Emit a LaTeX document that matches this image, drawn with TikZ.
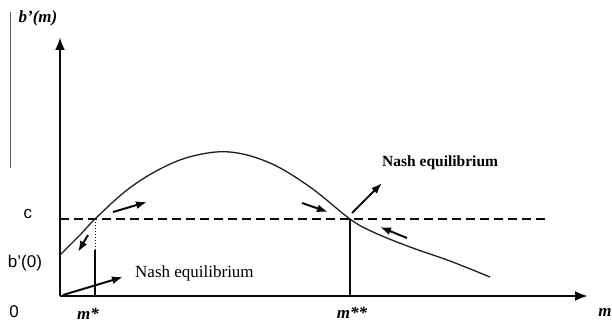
\documentclass[tikz,border=0pt]{standalone}
\usepackage{fontspec}
\setmainfont{Liberation Serif}
\setsansfont{Liberation Sans}
\usepackage{xcolor}
\usetikzlibrary{calc,arrows.meta,positioning}
\definecolor{axisBlack}{RGB}{10,10,10}
\definecolor{curveGray}{RGB}{30,30,30}
\definecolor{scanGray}{RGB}{90,90,90}

\begin{document}
\begin{tikzpicture}[x=1pt,y=1pt,
  axisline/.style={axisBlack, line width=2.8pt},
  moveArrow/.style={axisBlack, line width=2pt, -{Latex[length=11pt,width=8pt]}},
  lbl/.style={font=\fontsize{17}{19}\selectfont},
  mlbl/.style={font=\fontsize{17}{19}\selectfont\bfseries\itshape}]
\useasboundingbox (-60,-28) rectangle (552,296);
% points on the axes
\coordinate (O) at (0,0);
\coordinate (ytop) at (0,259);
\coordinate (xend) at (528,0);
\coordinate (mstar) at (35,77);
\coordinate (mss) at (290,77);
% scan edge at the left
\draw[scanGray, line width=0.8pt] (-50,284)--(-50,128);
% axes
\draw[axisline, -{Latex[length=13pt,width=10pt]}] (O)--(ytop);
\draw[axisline, -{Latex[length=13pt,width=10pt]}] (O)--(xend);
% level c
\draw[axisBlack, line width=1.6pt, dash pattern=on 9pt off 5pt] (0,77)--(485,77);
% b'(m)
\draw[curveGray, line width=1.3pt] plot[smooth, tension=0.6] coordinates
  {(0,41) (20,61) (35,77) (67,106) (100,127) (133,140) (170,144) (210,133)
   (250,109) (290,77) (313,64) (350,49) (390,35) (430,19)};
% the two equilibria
\draw[axisBlack, line width=1pt, dotted] (mstar)--(35,46);
\draw[axisBlack, line width=2.2pt] (35,46)--(mstar |- O);
\draw[axisBlack, line width=2.2pt] (mss)--(mss |- O);
% directions of motion
\draw[moveArrow] (28,61)--(18,44);
\draw[moveArrow] (53,84)--(87,94);
\draw[moveArrow] (3,1)--(63,19);
\draw[moveArrow] (242,93)--(268,84);
\draw[moveArrow] (292,83)--(322,113);
\draw[moveArrow] (347,58)--(320,69);
% labels
\node[mlbl] (bm) at (-22,278) {b'(m)};
\node[lbl, font=\fontsize{17}{19}\selectfont\sffamily] (clab) at (-32,82) {c};
\node[lbl, font=\fontsize{17}{19}\selectfont\sffamily] (bzero) at (-35,33) {b'(0)};
\node[lbl, font=\fontsize{17}{19}\selectfont\sffamily] (zero) at (-46,-16) {0};
\node[mlbl] (mslab) at (28,-18) {m*};
\node[mlbl] (msslab) at (292,-17) {m**};
\node[mlbl] (mlab) at (545,-16) {m};
\node[lbl, anchor=west, inner sep=0pt] (nashlow) at (75,23) {Nash equilibrium};
\node[lbl, font=\fontsize{15.5}{18}\selectfont\bfseries, anchor=west, inner sep=0pt] (nashhigh) at (322,133) {Nash equilibrium};
\end{tikzpicture}
\end{document}
